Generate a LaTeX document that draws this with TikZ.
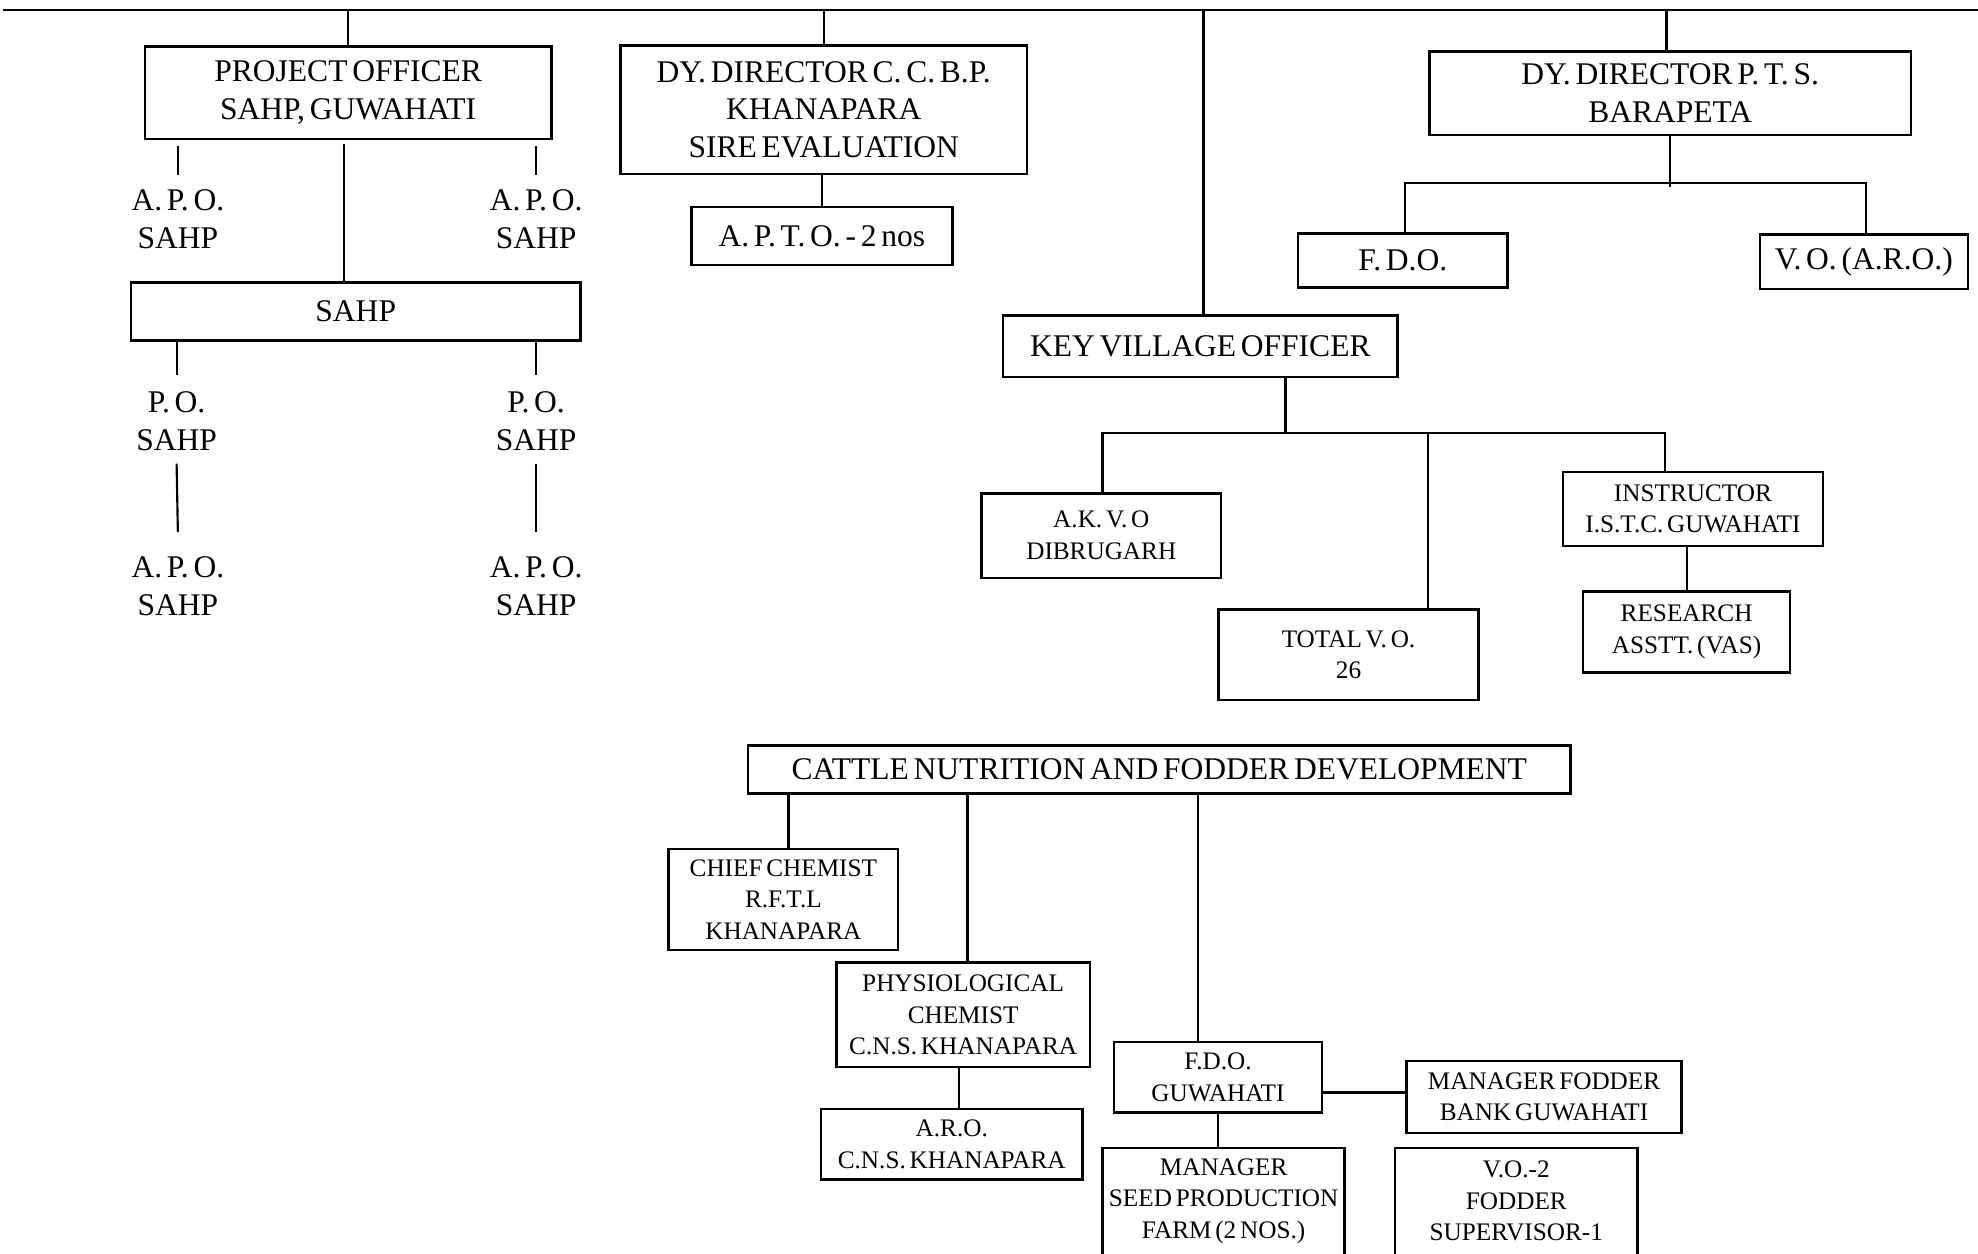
\documentclass[tikz,border=0pt]{standalone}
\usepackage{fontspec}
\setmainfont[WordSpace=0.6]{Liberation Serif}
\begin{document}
\begin{tikzpicture}[x=1pt,y=-1pt,
  bigt/.style={font=\fontsize{25}{30}\selectfont},
  smallt/.style={font=\fontsize{20}{25}\selectfont},
  box/.style={draw, line width=2pt, inner sep=0pt, align=center},
  lbl/.style={inner sep=0pt, align=center, bigt},
  conn/.style={line width=1.7pt}]
\useasboundingbox (0,0) rectangle (1568,994);
% top bar
\coordinate (tl) at (2,8);
\coordinate (tr) at (1568,8);
\draw[conn] (tl) -- (tr);
% left branch
\node[box,bigt,minimum width=322pt,minimum height=73pt] (po) at (276,73.5) {PROJECT OFFICER\\SAHP, GUWAHATI};
\node[lbl] (apo1) at (141,174) {A. P. O.\\SAHP};
\node[lbl] (apo2) at (425,174) {A. P. O.\\SAHP};
\node[box,bigt,minimum width=356pt,minimum height=46pt] (sahp) at (282,247) {SAHP};
\node[lbl] (po1) at (140,334) {P. O.\\SAHP};
\node[lbl] (po2) at (425,334) {P. O.\\SAHP};
\node[lbl] (apo3) at (141,464.5) {A. P. O.\\SAHP};
\node[lbl] (apo4) at (425,464.5) {A. P. O.\\SAHP};
\draw[conn] (po.north) -- (po.north |- tl);
\draw[conn] ([yshift=-5pt]po.south -| apo1.north) -- ([yshift=12pt]apo1.north);
\draw[conn] ([yshift=-5pt]po.south -| apo2.north) -- ([yshift=12pt]apo2.north);
\draw[conn] ([xshift=-3pt,yshift=-3pt]po.south) -- ([xshift=-3pt]po.south |- sahp.north);
\draw[conn] (sahp.south -| po1.north) -- ([yshift=13pt]po1.north);
\draw[conn] (sahp.south -| po2.north) -- ([yshift=13pt]po2.north);
\draw[conn] ([yshift=-10pt]po1.south) -- ([yshift=19pt]apo3.north);
\draw[conn] ([yshift=-10pt]po2.south) -- ([yshift=19pt]apo4.north);
% C.C.B.P.
\node[box,bigt,minimum width=322pt,minimum height=102pt] (ccbp) at (653,87) {DY. DIRECTOR C. C. B.P.\\KHANAPARA\\SIRE EVALUATION};
\node[box,bigt,minimum width=207pt,minimum height=46pt] (apto) at (651.5,187) {A. P. T. O. - 2 nos};
\draw[conn] (ccbp.north) -- (ccbp.north |- tl);
\draw[conn] (apto.north) -- (apto.north |- ccbp.south);
% P.T.S.
\node[box,bigt,minimum width=382pt,minimum height=66pt] (pts) at (1324,74) {DY. DIRECTOR P. T. S.\\BARAPETA};
\node[box,bigt,minimum width=166pt,minimum height=43pt] (fdo) at (1112,206.5) {F. D.O.};
\node[box,bigt,minimum width=165pt,minimum height=43pt] (vo) at (1477.5,207.5) {V. O. (A.R.O.)};
\coordinate (ptsj) at (1324,145);
\draw[conn] ([xshift=-3pt]pts.north) -- ([xshift=-3pt]pts.north |- tl);
\draw[conn] (pts.south) -- ([yshift=-3pt]ptsj);
\draw[conn] ([xshift=2pt]fdo.north) |- (ptsj) -| ([xshift=1.5pt]vo.north);
% Key village
\node[box,bigt,minimum width=313pt,minimum height=49pt] (kvo) at (951.5,274.5) {KEY VILLAGE OFFICER};
\node[box,smallt,minimum width=190pt,minimum height=67pt] (akvo) at (873,424.5) {A.K. V. O\\DIBRUGARH};
\node[box,smallt,minimum width=206pt,minimum height=72pt] (tvo) at (1069,519) {TOTAL V. O.\\26};
\node[box,smallt,minimum width=206pt,minimum height=59pt] (instr) at (1342,403.5) {INSTRUCTOR\\I.S.T.C. GUWAHATI};
\node[box,smallt,minimum width=164pt,minimum height=64pt] (rsch) at (1337,501) {RESEARCH\\ASSTT. (VAS)};
\coordinate (kvj) at (1019,343);
\draw[conn] ([xshift=2.5pt]kvo.north) -- ([xshift=2.5pt]kvo.north |- tl);
\draw[conn] (kvo.south -| kvj) -- (kvj);
\draw[conn] ([xshift=1pt]akvo.north) |- (kvj) -| ([xshift=-22pt]instr.north);
\draw[conn] ([xshift=63pt]tvo.north) -- ([xshift=63pt]tvo.north |- kvj);
\draw[conn] (rsch.north) -- (rsch.north |- instr.south);
% Cattle nutrition
\node[box,bigt,minimum width=652pt,minimum height=38pt] (cattle) at (919,610) {CATTLE NUTRITION AND FODDER DEVELOPMENT};
\node[box,smallt,minimum width=182pt,minimum height=80pt] (chief) at (621,713) {CHIEF CHEMIST\\R.F.T.L\\KHANAPARA};
\node[box,smallt,minimum width=201pt,minimum height=83pt] (phys) at (763.5,804.5) {PHYSIOLOGICAL\\CHEMIST\\C.N.S. KHANAPARA};
\node[box,smallt,minimum width=207pt,minimum height=56pt] (aro) at (754.5,907) {A.R.O.\\C.N.S. KHANAPARA};
\node[box,smallt,minimum width=165pt,minimum height=56pt] (fdog) at (965.5,854) {F.D.O.\\GUWAHATI};
\node[box,smallt,minimum width=218pt,minimum height=57pt] (mfb) at (1224,869.5) {MANAGER FODDER\\BANK GUWAHATI};
\node[box,minimum width=192pt,minimum height=92pt,
  label={[smallt,align=center,yshift=4pt]center:MANAGER\\SEED PRODUCTION\\FARM (2 NOS.)}] (mseed) at (970,956) {};
\node[box,minimum width=192pt,minimum height=92pt,
  label={[smallt,align=center,yshift=4pt]center:V.O.-2\\FODDER\\SUPERVISOR-1}] (vo2) at (1202,956) {};
\draw[conn] ([xshift=4pt]chief.north) -- ([xshift=4pt]chief.north |- cattle.south);
\draw[conn] ([xshift=3.5pt]phys.north) -- ([xshift=3.5pt]phys.north |- cattle.south);
\draw[conn] ([xshift=-15.5pt]fdog.north) -- ([xshift=-15.5pt]fdog.north |- cattle.south);
\draw[conn] ([xshift=-3.5pt]phys.south) -- ([xshift=-3.5pt]phys.south |- aro.north);
\draw[conn] ([yshift=-12pt]fdog.east) -- ([yshift=-12pt]fdog.east -| mfb.west);
\draw[conn] (fdog.south) -- (fdog.south |- mseed.north);
\end{tikzpicture}
\end{document}
